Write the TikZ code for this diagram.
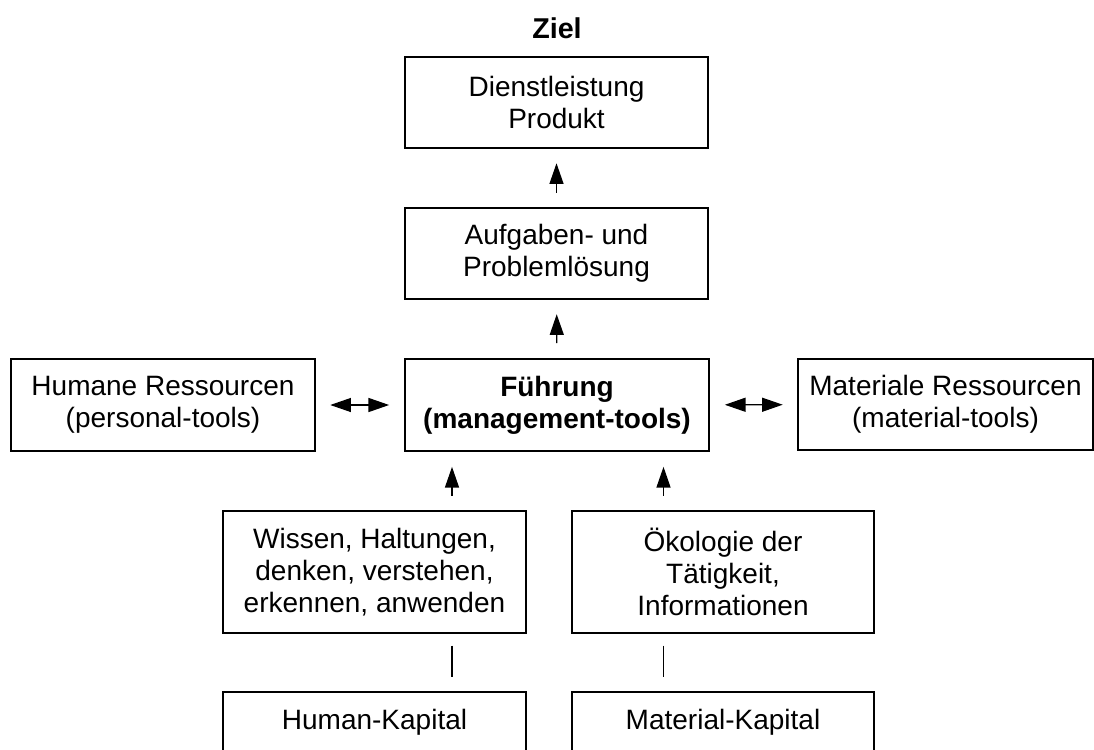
\documentclass[tikz,border=0pt]{standalone}
\usepackage{fontspec}
\setmainfont{Liberation Sans}
\usetikzlibrary{arrows.meta}

\begin{document}
\begin{tikzpicture}[x=0.75pt,y=0.75pt,yscale=-1,xscale=1,
  font=\fontsize{21}{24}\selectfont,
  box/.style={draw, line width=0.9pt, align=center, inner sep=0pt,
    minimum width=227.25pt, minimum height=68.25pt},
  keybox/.style={box, line width=1.8pt, font=\fontsize{21}{24}\selectfont\bfseries},
  arr/.style={-{Triangle[length=15.5pt,width=10.5pt]}, line width=0.9pt,
    shorten <=11pt, shorten >=11pt},
  dblarr/.style={{Triangle[length=15.5pt,width=10.5pt]}-{Triangle[length=15.5pt,width=10.5pt]},
    line width=0.9pt, shorten <=11pt, shorten >=11pt},
  tie/.style={line width=0.9pt, shorten <=9pt, shorten >=11pt}]
\clip (0,0) rectangle (1094,749);

% Title
\node [font=\fontsize{21.5}{24}\selectfont\bfseries] (ziel) at (557,28) {Ziel};

% Boxes, top to bottom
\node [box] (dienst) at (556.5,102.5) {Dienstleistung\\Produkt};
\node [box] (aufgabe) at (556.5,253.5) {Aufgaben- und\\Problemlösung};
\node [keybox, minimum width=228pt, minimum height=69pt] (fuehrung) at (557,405) {Führung\\(management-tools)};
\node [box, minimum width=228pt, minimum height=69pt] (humane) at (163,405) {Humane Ressourcen\\(personal-tools)};
\node [box, minimum width=221.25pt] (materiale) at (945.5,404.5) {Materiale Ressourcen\\(material-tools)};
\node [box, minimum height=91.5pt] (wissen) at (374.5,572) {Wissen, Haltungen,\\denken, verstehen,\\erkennen, anwenden};
\node [box, minimum width=226.5pt, minimum height=91.5pt] (oekologie) at (723,572) {Ökologie der\\Tätigkeit,\\Informationen};
\node [box, minimum height=45pt] (humkap) at (374.5,722) {Human-Kapital};
\node [box, minimum width=226.5pt, minimum height=45pt] (matkap) at (723,722) {Material-Kapital};

% Columns of the lower links
\coordinate (lcol) at (452,0);
\coordinate (rcol) at (663.5,0);

% Connectors
\draw [arr] (aufgabe) -- (dienst);
\draw [arr] (fuehrung) -- (aufgabe);
\draw [dblarr] (humane) -- (fuehrung);
\draw [dblarr] (fuehrung) -- (materiale);
\draw [arr] (wissen.north -| lcol) -- (fuehrung.south -| lcol);
\draw [arr] (oekologie.north -| rcol) -- (fuehrung.south -| rcol);
\draw [tie] (wissen.south -| lcol) -- (humkap.north -| lcol);
\draw [tie] (oekologie.south -| rcol) -- (matkap.north -| rcol);

\end{tikzpicture}
\end{document}
